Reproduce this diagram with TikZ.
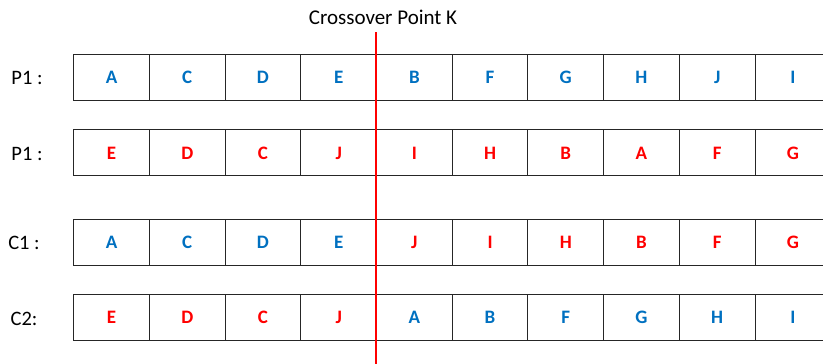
\documentclass[tikz,border=0pt]{standalone}
\usepackage{fontspec}
\setmainfont{Carlito}
\definecolor{gblue}{RGB}{0,112,192}
\definecolor{gred}{RGB}{255,0,0}
\begin{document}
\begin{tikzpicture}[x=1pt,y=-1pt,
  cellbox/.style={draw=black!85,line width=0.9pt,minimum width=75.7pt,minimum height=46pt,inner sep=0pt,text height=12.2pt,text depth=0pt,font=\fontsize{19}{22}\selectfont\bfseries},
  rowlabel/.style={font=\fontsize{20.5}{24}\selectfont,inner sep=0pt}]
\useasboundingbox (0,0) rectangle (823,364);
% rows: name, center y, letters with colours
\foreach \r/\yc/\cells in {
  a/77.2/{A/gblue,C/gblue,D/gblue,E/gblue,B/gblue,F/gblue,G/gblue,H/gblue,J/gblue,I/gblue},
  b/152.9/{E/gred,D/gred,C/gred,J/gred,I/gred,H/gred,B/gred,A/gred,F/gred,G/gred},
  c/242.2/{A/gblue,C/gblue,D/gblue,E/gblue,J/gred,I/gred,H/gred,B/gred,F/gred,G/gred},
  d/317.7/{E/gred,D/gred,C/gred,J/gred,A/gblue,B/gblue,F/gblue,G/gblue,H/gblue,I/gblue}}{
  \foreach \t/\c [count=\i from 0] in \cells {
    \node[cellbox,text=\c] (\r\i) at ({73.7+75.7*\i+37.85},\yc) {\t};
  }
}
\node[rowlabel] (la) at (27,78) {P1 :};
\node[rowlabel] (lb) at (27,153.5) {P1 :};
\node[rowlabel] (lc) at (24,243) {C1 :};
\node[rowlabel] (ld) at (24,318.5) {C2:};
\node[rowlabel,font=\fontsize{21}{24}\selectfont] (title) at (383,17) {Crossover Point K};
\coordinate (ktop) at (375.7,32);
\coordinate (kbot) at (375.7,364);
\draw[gred,line width=1.8pt] (ktop) -- (kbot);
\end{tikzpicture}
\end{document}
